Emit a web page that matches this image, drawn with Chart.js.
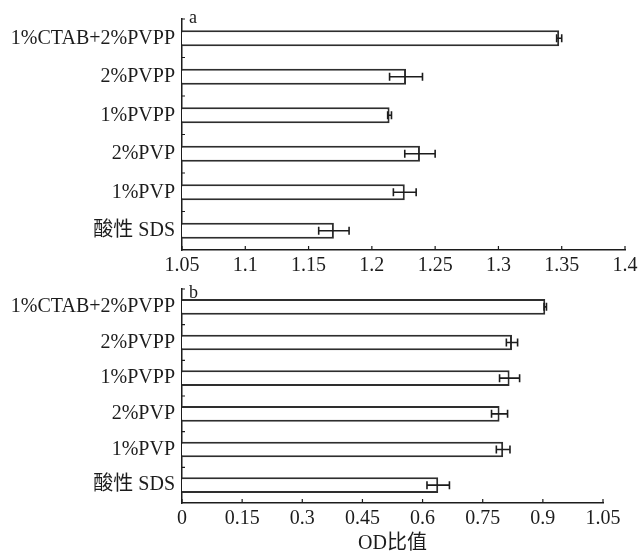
<!DOCTYPE html>
<html>
<head>
<meta charset="utf-8">
<script src="https://cdn.jsdelivr.net/npm/chart.js@4.4.0/dist/chart.umd.min.js"></script>
<style>
  body { margin: 0; background: #fff; width: 642px; height: 554px; position: relative; overflow: hidden; }
  .panel { position: absolute; left: 0; }
</style>
</head>
<body>
<div class="panel" style="top:0;width:642px;height:277px"><canvas id="chartA"></canvas></div>
<div class="panel" style="top:270px;width:642px;height:284px"><canvas id="chartB"></canvas></div>
<script>
// categories, top to bottom
var categories = ['1%CTAB+2%PVPP', '2%PVPP', '1%PVPP', '2%PVP', '1%PVP', '酸性 SDS'];

// panel a
var valuesA = [1.348, 1.227, 1.214, 1.238, 1.226, 1.170];
var errorsA = [0.002, 0.013, 0.0015, 0.012, 0.009, 0.012];
var ticksA = [1.05, 1.1, 1.15, 1.2, 1.25, 1.3, 1.35, 1.4];

// panel b
var valuesB = [0.906, 0.823, 0.817, 0.792, 0.801, 0.639];
var errorsB = [0.003, 0.014, 0.025, 0.020, 0.017, 0.028];
var ticksB = [0, 0.15, 0.3, 0.45, 0.6, 0.75, 0.9, 1.05];

var FONT = "'Liberation Serif', 'Times New Roman', 'Noto Sans CJK SC', serif";
var INK = '#1c1c1c';

// error bars, inner tick marks and panel letter
var extras = {
    id: 'extras',
    afterDatasetsDraw: function (chart, args, opts) {
        var ctx = chart.ctx;
        var xs = chart.scales.x, ys = chart.scales.y;
        var meta = chart.getDatasetMeta(0);
        var errs = chart.data.datasets[0].errors;
        ctx.save();
        ctx.strokeStyle = INK;
        ctx.lineWidth = 1.6;
        meta.data.forEach(function (bar, i) {
            var v = chart.data.datasets[0].data[i];
            var lo = xs.getPixelForValue(v - errs[i]);
            var hi = xs.getPixelForValue(v + errs[i]);
            var y = bar.y;
            ctx.beginPath();
            ctx.moveTo(lo, y); ctx.lineTo(hi, y);
            ctx.moveTo(lo, y - 4); ctx.lineTo(lo, y + 4);
            ctx.moveTo(hi, y - 4); ctx.lineTo(hi, y + 4);
            ctx.stroke();
        });
        // ticks on y axis between categories (pointing in)
        var n = chart.data.labels.length;
        var step = (ys.bottom - ys.top) / n;
        ctx.lineWidth = 1.2;
        ctx.beginPath();
        for (var k = 0; k < n; k++) {
            var yy = ys.top + k * step;
            ctx.moveTo(xs.left, yy); ctx.lineTo(xs.left + 3, yy);
        }
        // ticks on x axis (pointing up)
        xs.ticks.forEach(function (t) {
            var xx = xs.getPixelForValue(t.value);
            ctx.moveTo(xx, xs.top); ctx.lineTo(xx, xs.top - 4);
        });
        ctx.stroke();
        // panel letter
        ctx.fillStyle = INK;
        ctx.font = '18px ' + FONT;
        ctx.textBaseline = 'alphabetic';
        ctx.fillText(opts.letter, chart.chartArea.left + 7, chart.chartArea.top + opts.letterDy);
        ctx.restore();
    }
};

function makeChart(id, values, errors, tickVals, min, max, letter, letterDy, padTop, padRight, xHeight, title, barPct) {
    return new Chart(document.getElementById(id), {
        type: 'bar',
        data: {
            labels: categories,
            datasets: [{
                data: values,
                errors: errors,
                backgroundColor: '#ffffff',
                borderColor: '#2e2e2e',
                borderWidth: 2,
                borderSkipped: 'start',
                categoryPercentage: 1,
                barPercentage: barPct
            }]
        },
        options: {
            indexAxis: 'y',
            responsive: true,
            maintainAspectRatio: false,
            animation: false,
            layout: { padding: { top: padTop, right: padRight, left: 0, bottom: 0 } },
            plugins: {
                legend: { display: false },
                tooltip: { enabled: false },
                extras: { letter: letter, letterDy: letterDy }
            },
            scales: {
                x: {
                    type: 'linear',
                    min: min,
                    max: max,
                    afterBuildTicks: function (scale) {
                        scale.ticks = tickVals.map(function (v) { return { value: v }; });
                    },
                    afterFit: function (scale) { scale.height = xHeight; },
                    grid: { display: false, drawTicks: false },
                    border: { display: true, color: INK, width: 1.5 },
                    ticks: {
                        padding: 4,
                        color: INK,
                        font: { family: FONT, size: 20 },
                        maxRotation: 0,
                        autoSkip: false,
                        callback: function (v) { return String(parseFloat(v.toFixed(2))); }
                    },
                    title: title ? {
                        display: true,
                        text: title,
                        color: INK,
                        font: { family: FONT, size: 20, lineHeight: 1 },
                        padding: { top: 0, bottom: 0 }
                    } : { display: false }
                },
                y: {
                    afterFit: function (scale) { scale.width = 182; },
                    grid: { display: false, drawTicks: false },
                    border: { display: true, color: INK, width: 1.5 },
                    ticks: {
                        padding: 7,
                        color: INK,
                        font: { family: FONT, size: 20 }
                    }
                }
            }
        },
        plugins: [extras]
    });
}

makeChart('chartA', valuesA, errorsA, ticksA, 1.05, 1.4, 'a', 4, 19, 17, 27, null, 0.42);
makeChart('chartB', valuesB, errorsB, ticksB, 0, 1.05, 'b', 9, 15, 39, 51, 'OD比值', 0.44);
</script>
</body>
</html>
